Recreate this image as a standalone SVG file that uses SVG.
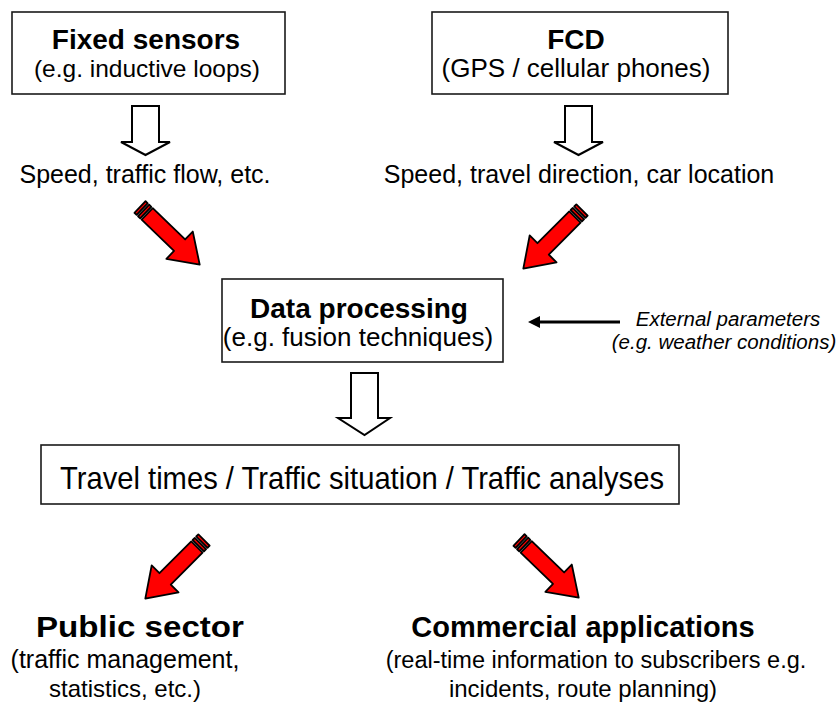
<svg xmlns="http://www.w3.org/2000/svg" width="838" height="702" viewBox="0 0 838 702">
<defs>
<style>
.box{fill:#fff;stroke:#1a1a1a;stroke-width:1.6}
.t{font-family:"Liberation Sans",Arial,sans-serif;fill:#000;text-anchor:middle}
.b{font-weight:bold}
.i{font-style:italic}
.hollow{fill:#fff;stroke:#000;stroke-width:2;stroke-linejoin:miter}
.red{fill:#ff0000;stroke:#000;stroke-width:1.8;stroke-linejoin:round}
</style>
<g id="redArrow">
<rect class="red" x="0" y="-8" width="3" height="16"/>
<rect class="red" x="5" y="-8" width="3" height="16"/>
<polygon class="red" points="10,-8 55,-8 55,-19 83,0 55,19 55,8 10,8"/>
</g>
</defs>
<rect width="838" height="702" fill="#fff"/>

<g id="fixed-sensors">
<rect class="box" x="12" y="12" width="273" height="82"/>
<text class="t b" x="146" y="49" font-size="28">Fixed sensors</text>
<text class="t" x="147" y="77" font-size="24.5">(e.g. inductive loops)</text>
</g>

<g id="fcd">
<rect class="box" x="432" y="12" width="296" height="82"/>
<text class="t b" x="576" y="49" font-size="28">FCD</text>
<text class="t" x="576" y="77" font-size="26">(GPS / cellular phones)</text>
</g>

<g id="fixed-output">
<text class="t" x="145" y="183" font-size="25">Speed, traffic flow, etc.</text>
</g>

<g id="fcd-output">
<text class="t" x="579" y="183" font-size="25">Speed, travel direction, car location</text>
</g>

<g id="data-processing">
<rect class="box" x="222" y="279" width="281" height="83"/>
<text class="t b" x="359" y="318" font-size="28">Data processing</text>
<text class="t" x="358" y="346" font-size="26">(e.g. fusion techniques)</text>
</g>

<g id="external-parameters">
<text class="t i" x="728" y="326" font-size="20.5">External parameters</text>
<text class="t i" x="724" y="349" font-size="20.5">(e.g. weather conditions)</text>
</g>

<g id="travel-times">
<rect class="box" x="41" y="445" width="638" height="59"/>
<text class="t" x="362" y="489" font-size="32" textLength="604" lengthAdjust="spacingAndGlyphs">Travel times / Traffic situation / Traffic analyses</text>
</g>

<g id="public-sector">
<text class="t b" x="140" y="637" font-size="30" textLength="208" lengthAdjust="spacingAndGlyphs">Public sector</text>
<text class="t" x="125" y="668" font-size="25">(traffic management,</text>
<text class="t" x="125" y="697" font-size="24">statistics, etc.)</text>
</g>

<g id="commercial-applications">
<text class="t b" x="583" y="637" font-size="29">Commercial applications</text>
<text class="t" x="596" y="668" font-size="23.5">(real-time information to subscribers e.g.</text>
<text class="t" x="583" y="697" font-size="24">incidents, route planning)</text>
</g>

<g id="connectors">
<polygon class="hollow" points="132,106 159,106 159,142 170,142 145.5,155 121,142 132,142"/>
<polygon class="hollow" points="565,106 592,106 592,142 603,142 578.5,155 554,142 565,142"/>
<polygon class="hollow" points="351,373 378,373 378,418 390,418 364.5,435 338,418 351,418"/>
<use href="#redArrow" transform="translate(140,207) rotate(44)"/>
<use href="#redArrow" transform="translate(582,210) rotate(135)"/>
<use href="#redArrow" transform="translate(204,540) rotate(135)"/>
<use href="#redArrow" transform="translate(519,540) rotate(44)"/>
<line x1="620" y1="322" x2="538" y2="322" stroke="#000" stroke-width="3"/>
<polygon points="528,322 540,316 540,328" fill="#000"/>
</g>
</svg>
